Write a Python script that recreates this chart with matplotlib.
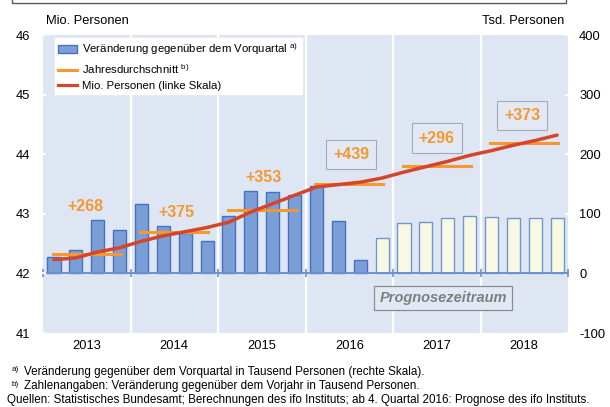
import matplotlib
matplotlib.use("Agg")
import matplotlib.pyplot as plt
from matplotlib.patches import Rectangle, Patch
from matplotlib.lines import Line2D

plt.rcParams['font.family'] = ['Liberation Sans', 'DejaVu Sans']
plt.rcParams['mathtext.fontset'] = 'custom'
plt.rcParams['mathtext.rm'] = 'Liberation Sans'

# ---- data ----
years = [2013, 2014, 2015, 2016, 2017, 2018]
# change vs. previous quarter, thousand persons (right scale)
change_qoq = [27, 40, 89, 73, 117, 80, 67, 55, 96, 138, 137, 132,
              147, 88, 23, 59, 84, 86, 93, 96, 94, 93, 93, 93]
# employed persons, million (left scale)
employed_mio = [42.23, 42.26, 42.36, 42.43, 42.54, 42.63, 42.70, 42.77,
                42.86, 43.03, 43.17, 43.31, 43.45, 43.49, 43.53, 43.60,
                43.70, 43.79, 43.88, 43.98, 44.06, 44.15, 44.23, 44.32]
# annual averages, million
annual_avg = [42.32, 42.70, 43.06, 43.50, 43.80, 44.18]
# change vs. previous year, thousand persons
annual_change = [268, 375, 353, 439, 296, 373]
forecast_start = 15  # index of first forecast quarter (2016 Q4)

W, H = 610, 407
fig = plt.figure(figsize=(W / 100, H / 100), dpi=100)


def fx(px):
    return px / W


def fy(py):
    return 1 - py / H


L, R, T, B = 43, 568, 35, 333
ax2 = fig.add_axes([fx(L), fy(B), fx(R - L), fy(T) - fy(B)])
ax = ax2.twinx()
ax.yaxis.tick_left()
ax2.yaxis.tick_right()

BG = '#DFE6F3'
ORANGE = '#F4982F'
RED = '#D5452A'
BAR_FILL = '#7C9ED7'
BAR_EDGE = '#4571BE'
FC_FILL = '#F8F9E3'
FC_EDGE = '#7196CF'
AXIS_BLUE = '#6A91CF'

ax2.set_facecolor(BG)
ax.patch.set_visible(False)
ax.set_zorder(ax2.get_zorder() + 1)

n = len(change_qoq)
xq = [i + 0.5 for i in range(n)]
ax2.set_xlim(0, n)
ax2.set_ylim(-100, 400)
ax.set_ylim(41, 46)

# year separators
for k in range(1, len(years)):
    ax2.axvline(4 * k, color='white', lw=1.6, zorder=0.5)

# quarterly change bars
for i, v in enumerate(change_qoq):
    fc, ec = (BAR_FILL, BAR_EDGE) if i < forecast_start else (FC_FILL, FC_EDGE)
    ax2.bar(xq[i], v, width=0.6, color=fc, edgecolor=ec, linewidth=1.0, zorder=2)

# zero axis line with year ticks
ax2.axhline(0, color=AXIS_BLUE, lw=1.4, zorder=3)
ax2.plot([4 * k for k in range(len(years) + 1)], [0] * (len(years) + 1),
         ls='none', marker='|', ms=6, mew=1.2, color=AXIS_BLUE, zorder=3, clip_on=False)

# employment level
ax.plot(xq, employed_mio, color=RED, lw=2.5, zorder=4, solid_capstyle='round')

# annual averages
for k, v in enumerate(annual_avg):
    ax.plot([4 * k + 0.45, 4 * k + 3.55], [v, v], color=ORANGE, lw=2.2, zorder=3)

# annual change labels
label_pos = [(1.92, 43.12), (6.08, 43.02), (10.1, 43.61),
             (14.08, 44.00), (18.0, 44.27), (21.9, 44.65)]
for k, (val, (px, py)) in enumerate(zip(annual_change, label_pos)):
    kw = {}
    if 4 * (k + 1) > forecast_start:
        kw['bbox'] = dict(boxstyle='square,pad=0.45', fc='#E3E9F4', ec='#A2AAB6', lw=0.8)
    ax.text(px, py, f'+{val}', color=ORANGE, fontsize=11.5, fontweight='bold',
            ha='center', va='center', zorder=5, **kw)

# forecast period marker
ax.text(18.3, 41.585, 'Prognosezeitraum', color='#7F7F7F', fontsize=10.5,
        fontweight='bold', fontstyle='italic', ha='center', va='center', zorder=5,
        bbox=dict(boxstyle='square,pad=0.35', fc='#E3E9F4', ec='#8C8C8C', lw=0.9))

# axes styling
for a in (ax, ax2):
    for s in a.spines.values():
        s.set_visible(False)
ax.set_yticks([41, 42, 43, 44, 45, 46])
ax.set_yticklabels(['41', '42', '43', '44', '45', '46'])
ax2.set_yticks([-100, 0, 100, 200, 300, 400])
ax2.set_yticklabels(['-100', '0', '100', '200', '300', '400'])
ax.tick_params(axis='y', direction='inout', length=4, width=1.5, color='white',
               labelsize=9.3, pad=7)
ax2.tick_params(axis='y', direction='inout', length=4, width=1.5, color='white',
                labelsize=9.3, pad=6)
ax2.set_xticks([4 * k + 2 for k in range(len(years))])
ax2.set_xticklabels([str(y) for y in years])
ax2.tick_params(axis='x', length=0, labelsize=9.3, pad=5)
ax.tick_params(axis='x', length=0, labelbottom=False)

fig.text(fx(L + 3), fy(21), 'Mio. Personen', fontsize=9.3, ha='left', va='center')
fig.text(fx(564), fy(21), 'Tsd. Personen', fontsize=9.3, ha='right', va='center')

# legend
handles = [Patch(facecolor=BAR_FILL, edgecolor=BAR_EDGE, lw=1.0),
           Line2D([], [], color=ORANGE, lw=2.2),
           Line2D([], [], color=RED, lw=2.3)]
labels = [r'Veränderung gegenüber dem Vorquartal $^{\mathrm{a)}}$',
          r'Jahresdurchschnitt $^{\mathrm{b)}}$',
          'Mio. Personen (linke Skala)']
leg = ax.legend(handles, labels, loc='upper left',
                bbox_to_anchor=(fx(55), fy(38)), bbox_transform=fig.transFigure,
                fontsize=8.2, frameon=True, fancybox=False, framealpha=1,
                edgecolor='white', facecolor='white', borderpad=0.3,
                labelspacing=0.42, handlelength=1.6, handletextpad=0.5,
                borderaxespad=0)
leg.set_zorder(6)

# footnotes
FN = 8.4
fig.text(fx(12), fy(369.5), 'a)', fontsize=5.8, ha='left', va='center')
fig.text(fx(24), fy(371.5), 'Veränderung gegenüber dem Vorquartal in Tausend Personen (rechte Skala).',
         fontsize=FN, ha='left', va='center')
fig.text(fx(12), fy(384.5), 'b)', fontsize=5.8, ha='left', va='center')
fig.text(fx(24), fy(386.5), 'Zahlenangaben: Veränderung gegenüber dem Vorjahr in Tausend Personen.',
         fontsize=FN, ha='left', va='center')
fig.text(fx(7), fy(400.5), 'Quellen: Statistisches Bundesamt; Berechnungen des ifo Instituts; '
         'ab 4. Quartal 2016: Prognose des ifo Instituts.', fontsize=FN, ha='left', va='center')

# frame edge of the preceding box
fig.add_artist(Rectangle((fx(12.5), fy(3)), fx(566 - 12.5), 0.2,
                         transform=fig.transFigure, fill=False, ec='#595959', lw=1.0))

fig.savefig('out.png', dpi=100)
